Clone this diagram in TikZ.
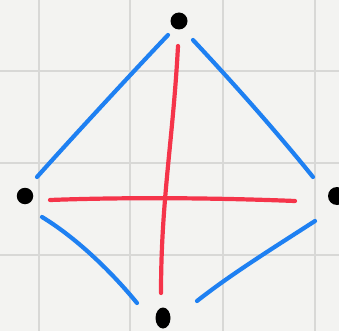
\documentclass[tikz,border=0pt]{standalone}
\usetikzlibrary{shapes.geometric}
\definecolor{paper}{HTML}{F3F3F1}
\definecolor{gridc}{HTML}{D8D8D6}
\definecolor{penblue}{HTML}{1E80F2}
\definecolor{penred}{HTML}{F5344A}
\tikzset{
  dot/.style={circle,fill=black,inner sep=0pt,minimum size=17pt},
  blueline/.style={penblue,line width=4.2pt,line cap=round},
  redline/.style={penred,line width=4.2pt,line cap=round},
  gridline/.style={gridc,line width=2.2pt}
}
\begin{document}
\begin{tikzpicture}[x=1pt,y=-1pt]
\fill[paper] (0,0) rectangle (339,331);
\useasboundingbox (0,0) rectangle (339,331);
\begin{scope}
\clip (0,0) rectangle (339,331);
\foreach \gx in {39,130,223,315} \draw[gridline] (\gx,0) -- (\gx,331);
\foreach \gy in {71,163,255} \draw[gridline] (0,\gy) -- (339,\gy);
% dots
\node[dot] (top) at (179,21) {};
\node[dot,minimum size=16.5pt] (left) at (25,196) {};
\node[dot,minimum size=18pt] (right) at (337,196) {};
\node[ellipse,fill=black,inner sep=0pt,minimum width=15pt,minimum height=21pt] (bottom) at (163,318) {};
% stroke ends
\coordinate (tl1) at (168,35);  \coordinate (tl2) at (37,177);
\coordinate (tr1) at (193,40);  \coordinate (tr2) at (313,177);
\coordinate (bl1) at (42,217);  \coordinate (bl2) at (137,303);
\coordinate (br1) at (315,221); \coordinate (br2) at (197,301);
\coordinate (v1) at (178,46);   \coordinate (v2) at (161,293);
\coordinate (h1) at (50,200);   \coordinate (h2) at (295,201);
% blue edges
\draw[blueline] (tl1) .. controls (130,75) and (70,140) .. (tl2);
\draw[blueline] (tr1) .. controls (235,85) and (275,130) .. (tr2);
\draw[blueline] (bl1) .. controls (75,237) and (110,270) .. (bl2);
\draw[blueline] (br1) .. controls (270,250) and (230,275) .. (br2);
% red cross
\draw[redline] (v1) .. controls (173,140) and (161,200) .. (v2);
\draw[redline] (h1) .. controls (130,197) and (220,198) .. (h2);
\end{scope}
\end{tikzpicture}
\end{document}
